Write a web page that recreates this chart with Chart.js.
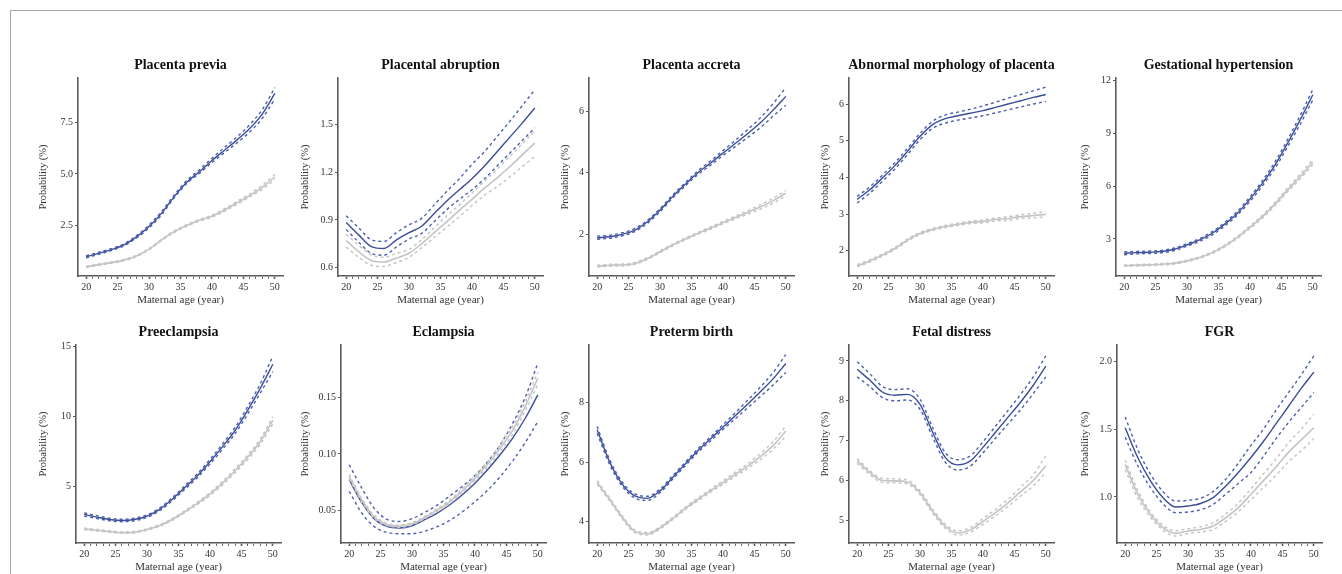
<!DOCTYPE html>
<html>
<head>
<meta charset="utf-8">
<script src="https://cdn.jsdelivr.net/npm/chart.js@4.4.0/dist/chart.umd.min.js"></script>
<style>
  body { margin: 0; background: #fff; width: 1342px; height: 574px; overflow: hidden; position: relative; }
  #frame { position: absolute; left: 10px; top: 10px; right: 0; bottom: 0; border-top: 1px solid #a8a8a8; border-left: 1px solid #a8a8a8; }
  canvas { position: absolute; }
</style>
</head>
<body>
<div id="frame"></div>
<script>
// maternal age points (year)
const ages = [20, 22, 24, 26, 28, 30, 32, 34, 36, 38, 40, 42, 44, 46, 48, 50];
const xMajor = [20, 25, 30, 35, 40, 45, 50];

// Placenta previa
const previaBlue   = [0.98, 1.15, 1.33, 1.56, 1.95, 2.45, 3.1, 3.9, 4.6, 5.1, 5.65, 6.15, 6.65, 7.2, 7.9, 8.9];
const previaBlueLo = [0.93, 1.1, 1.28, 1.51, 1.89, 2.38, 3.02, 3.84, 4.54, 5.02, 5.55, 6.03, 6.51, 7.03, 7.69, 8.63];
const previaBlueHi = [1.03, 1.2, 1.38, 1.61, 2.01, 2.52, 3.18, 3.98, 4.68, 5.2, 5.76, 6.28, 6.8, 7.38, 8.12, 9.18];
const previaGray   = [0.49, 0.6, 0.7, 0.82, 1.02, 1.35, 1.8, 2.2, 2.5, 2.75, 2.95, 3.25, 3.6, 3.95, 4.35, 4.85];
const previaGrayLo = [0.46, 0.57, 0.67, 0.79, 0.99, 1.32, 1.77, 2.16, 2.46, 2.71, 2.9, 3.19, 3.53, 3.87, 4.25, 4.72];
const previaGrayHi = [0.52, 0.63, 0.73, 0.85, 1.05, 1.38, 1.83, 2.24, 2.54, 2.79, 3.0, 3.31, 3.67, 4.03, 4.45, 4.98];
const previaTicks  = ["2.5", "5.0", "7.5"];

// Placental abruption
const abruptionBlue   = [0.884, 0.806, 0.732, 0.72, 0.775, 0.82, 0.86, 0.94, 1.02, 1.09, 1.16, 1.24, 1.33, 1.42, 1.51, 1.605];
const abruptionBlueLo = [0.84, 0.76, 0.69, 0.678, 0.73, 0.78, 0.815, 0.89, 0.965, 1.03, 1.09, 1.16, 1.24, 1.32, 1.4, 1.48];
const abruptionBlueHi = [0.926, 0.85, 0.775, 0.765, 0.82, 0.87, 0.91, 0.995, 1.08, 1.16, 1.25, 1.33, 1.425, 1.52, 1.62, 1.72];
const abruptionGray   = [0.77, 0.7, 0.645, 0.635, 0.66, 0.69, 0.75, 0.82, 0.89, 0.96, 1.03, 1.1, 1.165, 1.235, 1.31, 1.385];
const abruptionGrayLo = [0.73, 0.665, 0.615, 0.607, 0.632, 0.665, 0.725, 0.79, 0.855, 0.92, 0.99, 1.055, 1.11, 1.17, 1.235, 1.3];
const abruptionGrayHi = [0.81, 0.74, 0.68, 0.665, 0.69, 0.715, 0.775, 0.85, 0.925, 0.995, 1.07, 1.145, 1.22, 1.3, 1.38, 1.46];
const abruptionTicks  = ["0.6", "0.9", "1.2", "1.5"];

// Placenta accreta
const accretaBlue   = [1.88, 1.91, 1.99, 2.13, 2.4, 2.78, 3.22, 3.62, 4.0, 4.31, 4.64, 4.96, 5.29, 5.64, 6.05, 6.49];
const accretaBlueLo = [1.83, 1.86, 1.94, 2.08, 2.35, 2.73, 3.17, 3.57, 3.94, 4.24, 4.56, 4.86, 5.16, 5.48, 5.85, 6.2];
const accretaBlueHi = [1.93, 1.96, 2.04, 2.18, 2.45, 2.83, 3.27, 3.67, 4.06, 4.38, 4.72, 5.06, 5.42, 5.8, 6.26, 6.78];
const accretaGray   = [0.95, 0.98, 0.99, 1.04, 1.2, 1.42, 1.64, 1.84, 2.02, 2.19, 2.37, 2.54, 2.71, 2.89, 3.09, 3.33];
const accretaGrayLo = [0.92, 0.95, 0.96, 1.01, 1.17, 1.39, 1.61, 1.81, 1.99, 2.15, 2.33, 2.49, 2.65, 2.82, 3.01, 3.24];
const accretaGrayHi = [0.98, 1.01, 1.02, 1.07, 1.23, 1.45, 1.67, 1.87, 2.05, 2.23, 2.41, 2.59, 2.77, 2.96, 3.17, 3.42];
const accretaTicks  = ["2", "4", "6"];

// Abnormal morphology of placenta
const morphBlue   = [3.4, 3.66, 3.98, 4.32, 4.71, 5.12, 5.44, 5.6, 5.68, 5.75, 5.82, 5.91, 6.0, 6.09, 6.18, 6.26];
const morphBlueLo = [3.3, 3.57, 3.89, 4.23, 4.62, 5.03, 5.34, 5.48, 5.56, 5.62, 5.68, 5.76, 5.84, 5.92, 6.0, 6.07];
const morphBlueHi = [3.48, 3.74, 4.06, 4.4, 4.79, 5.2, 5.53, 5.7, 5.78, 5.86, 5.95, 6.05, 6.16, 6.26, 6.36, 6.46];
const morphGray   = [1.59, 1.72, 1.88, 2.06, 2.29, 2.47, 2.58, 2.66, 2.72, 2.77, 2.8, 2.85, 2.88, 2.93, 2.96, 2.99];
const morphGrayLo = [1.56, 1.69, 1.85, 2.03, 2.26, 2.44, 2.55, 2.63, 2.69, 2.74, 2.76, 2.81, 2.83, 2.88, 2.9, 2.92];
const morphGrayHi = [1.62, 1.75, 1.91, 2.09, 2.32, 2.5, 2.61, 2.69, 2.75, 2.8, 2.84, 2.89, 2.93, 2.98, 3.02, 3.06];
const morphTicks  = ["2", "3", "4", "5", "6"];

// Gestational hypertension
const ghBlue   = [2.18, 2.22, 2.24, 2.28, 2.41, 2.66, 2.94, 3.32, 3.84, 4.46, 5.26, 6.17, 7.21, 8.45, 9.78, 11.2];
const ghBlueLo = [2.1, 2.15, 2.17, 2.21, 2.34, 2.59, 2.86, 3.23, 3.74, 4.35, 5.13, 6.02, 7.03, 8.24, 9.53, 10.9];
const ghBlueHi = [2.26, 2.29, 2.31, 2.35, 2.48, 2.73, 3.02, 3.41, 3.94, 4.57, 5.39, 6.32, 7.39, 8.66, 10.03, 11.5];
const ghGray   = [1.48, 1.5, 1.52, 1.56, 1.61, 1.75, 1.94, 2.22, 2.6, 3.09, 3.66, 4.27, 4.99, 5.79, 6.55, 7.37];
const ghGrayLo = [1.44, 1.46, 1.48, 1.52, 1.57, 1.71, 1.9, 2.17, 2.55, 3.03, 3.59, 4.19, 4.9, 5.68, 6.42, 7.22];
const ghGrayHi = [1.52, 1.54, 1.56, 1.6, 1.65, 1.79, 1.98, 2.27, 2.65, 3.15, 3.73, 4.35, 5.08, 5.9, 6.68, 7.52];
const ghTicks  = ["3", "6", "9", "12"];

// Preeclampsia
const preBlue   = [3.01, 2.82, 2.65, 2.58, 2.65, 2.89, 3.37, 4.09, 4.93, 5.77, 6.77, 7.85, 9.0, 10.44, 12.0, 13.73];
const preBlueLo = [2.9, 2.72, 2.56, 2.49, 2.56, 2.8, 3.27, 3.98, 4.81, 5.63, 6.61, 7.66, 8.77, 10.17, 11.67, 13.2];
const preBlueHi = [3.12, 2.92, 2.74, 2.67, 2.74, 2.98, 3.47, 4.2, 5.05, 5.91, 6.93, 8.04, 9.23, 10.71, 12.33, 14.3];
const preGray   = [1.98, 1.88, 1.79, 1.71, 1.74, 1.93, 2.22, 2.65, 3.2, 3.8, 4.45, 5.24, 6.13, 7.09, 8.21, 9.72];
const preGrayLo = [1.92, 1.83, 1.74, 1.66, 1.69, 1.88, 2.16, 2.59, 3.13, 3.72, 4.35, 5.12, 5.99, 6.93, 8.02, 9.46];
const preGrayHi = [2.04, 1.93, 1.84, 1.76, 1.79, 1.98, 2.28, 2.71, 3.27, 3.88, 4.55, 5.36, 6.27, 7.25, 8.4, 9.98];
const preTicks  = ["5", "10", "15"];

// Eclampsia
const eclBlue   = [0.0773, 0.0573, 0.0427, 0.0362, 0.0348, 0.0368, 0.0421, 0.048, 0.0553, 0.0641, 0.0743, 0.0861, 0.0993, 0.114, 0.1315, 0.152];
const eclBlueLo = [0.067, 0.048, 0.036, 0.031, 0.0298, 0.0298, 0.032, 0.036, 0.0415, 0.049, 0.058, 0.068, 0.08, 0.094, 0.11, 0.1286];
const eclBlueHi = [0.0905, 0.07, 0.052, 0.0425, 0.0406, 0.043, 0.0485, 0.055, 0.063, 0.0715, 0.081, 0.093, 0.108, 0.127, 0.15, 0.18];
const eclGray   = [0.08, 0.0595, 0.0445, 0.038, 0.0365, 0.0385, 0.044, 0.0505, 0.058, 0.0675, 0.0787, 0.091, 0.105, 0.121, 0.142, 0.1667];
const eclGrayLo = [0.078, 0.058, 0.043, 0.037, 0.0355, 0.0375, 0.043, 0.0492, 0.0565, 0.0657, 0.0766, 0.0885, 0.102, 0.1175, 0.138, 0.1615];
const eclGrayHi = [0.082, 0.061, 0.046, 0.039, 0.0375, 0.0395, 0.045, 0.0518, 0.0595, 0.0693, 0.0808, 0.0935, 0.108, 0.1245, 0.146, 0.172];
const eclTicks  = ["0.05", "0.10", "0.15"];

// Preterm birth
const ptbBlue   = [7.09, 6.0, 5.26, 4.87, 4.79, 5.04, 5.49, 5.94, 6.39, 6.78, 7.18, 7.57, 7.97, 8.38, 8.81, 9.32];
const ptbBlueLo = [6.97, 5.92, 5.19, 4.8, 4.72, 4.98, 5.43, 5.88, 6.33, 6.71, 7.1, 7.47, 7.84, 8.22, 8.6, 9.02];
const ptbBlueHi = [7.2, 6.08, 5.33, 4.94, 4.86, 5.1, 5.55, 6.0, 6.45, 6.85, 7.26, 7.67, 8.1, 8.54, 9.02, 9.62];
const ptbGray   = [5.32, 4.75, 4.15, 3.68, 3.6, 3.8, 4.11, 4.45, 4.75, 5.04, 5.32, 5.6, 5.88, 6.2, 6.57, 7.05];
const ptbGrayLo = [5.26, 4.7, 4.1, 3.64, 3.56, 3.76, 4.07, 4.41, 4.7, 4.99, 5.26, 5.53, 5.8, 6.1, 6.44, 6.88];
const ptbGrayHi = [5.38, 4.8, 4.2, 3.72, 3.64, 3.84, 4.15, 4.49, 4.8, 5.09, 5.38, 5.67, 5.96, 6.3, 6.7, 7.22];
const ptbTicks  = ["4", "6", "8"];

// Fetal distress
const fdBlue   = [8.79, 8.52, 8.22, 8.14, 8.16, 7.91, 7.21, 6.58, 6.39, 6.49, 6.83, 7.21, 7.59, 7.97, 8.39, 8.87];
const fdBlueLo = [8.6, 8.36, 8.08, 8.0, 8.02, 7.78, 7.09, 6.46, 6.26, 6.36, 6.69, 7.06, 7.42, 7.78, 8.18, 8.6];
const fdBlueHi = [8.98, 8.68, 8.36, 8.28, 8.3, 8.04, 7.33, 6.7, 6.52, 6.62, 6.97, 7.36, 7.76, 8.16, 8.6, 9.13];
const fdGray   = [6.49, 6.2, 6.0, 5.99, 5.96, 5.69, 5.23, 4.85, 4.68, 4.76, 4.97, 5.19, 5.44, 5.72, 6.0, 6.37];
const fdGrayLo = [6.43, 6.15, 5.95, 5.94, 5.91, 5.64, 5.18, 4.8, 4.63, 4.7, 4.9, 5.11, 5.35, 5.61, 5.86, 6.2];
const fdGrayHi = [6.55, 6.25, 6.05, 6.04, 6.01, 5.74, 5.28, 4.9, 4.73, 4.82, 5.04, 5.27, 5.53, 5.83, 6.14, 6.62];
const fdTicks  = ["5", "6", "7", "8", "9"];

// FGR
const fgrBlue   = [1.51, 1.29, 1.12, 0.995, 0.926, 0.933, 0.951, 0.995, 1.08, 1.18, 1.29, 1.41, 1.54, 1.67, 1.8, 1.92];
const fgrBlueLo = [1.44, 1.23, 1.07, 0.95, 0.884, 0.889, 0.905, 0.945, 1.02, 1.1, 1.18, 1.3, 1.43, 1.55, 1.66, 1.77];
const fgrBlueHi = [1.59, 1.35, 1.17, 1.04, 0.97, 0.975, 0.99, 1.04, 1.13, 1.25, 1.38, 1.5, 1.64, 1.77, 1.9, 2.04];
const fgrGray   = [1.24, 1.02, 0.872, 0.773, 0.731, 0.748, 0.76, 0.785, 0.847, 0.921, 1.02, 1.12, 1.22, 1.33, 1.42, 1.51];
const fgrGrayLo = [1.2, 0.99, 0.85, 0.755, 0.712, 0.73, 0.74, 0.76, 0.82, 0.89, 0.98, 1.07, 1.16, 1.26, 1.34, 1.43];
const fgrGrayHi = [1.27, 1.05, 0.89, 0.79, 0.75, 0.765, 0.78, 0.81, 0.875, 0.955, 1.06, 1.17, 1.28, 1.4, 1.5, 1.61];
const fgrTicks  = ["1.0", "1.5", "2.0"];

const panels = [
  { title: "Placenta previa", blue: [previaBlue, previaBlueLo, previaBlueHi], gray: [previaGray, previaGrayLo, previaGrayHi], ticks: previaTicks, yMin: 0.05, yMax: 9.65 },
  { title: "Placental abruption", blue: [abruptionBlue, abruptionBlueLo, abruptionBlueHi], gray: [abruptionGray, abruptionGrayLo, abruptionGrayHi], ticks: abruptionTicks, yMin: 0.547, yMax: 1.794 },
  { title: "Placenta accreta", blue: [accretaBlue, accretaBlueLo, accretaBlueHi], gray: [accretaGray, accretaGrayLo, accretaGrayHi], ticks: accretaTicks, yMin: 0.63, yMax: 7.09 },
  { title: "Abnormal morphology of placenta", blue: [morphBlue, morphBlueLo, morphBlueHi], gray: [morphGray, morphGrayLo, morphGrayHi], ticks: morphTicks, yMin: 1.31, yMax: 6.71 },
  { title: "Gestational hypertension", blue: [ghBlue, ghBlueLo, ghBlueHi], gray: [ghGray, ghGrayLo, ghGrayHi], ticks: ghTicks, yMin: 0.89, yMax: 12.15 },
  { title: "Preeclampsia", blue: [preBlue, preBlueLo, preBlueHi], gray: [preGray, preGrayLo, preGrayHi], ticks: preTicks, yMin: 0.97, yMax: 15.1 },
  { title: "Eclampsia", blue: [eclBlue, eclBlueLo, eclBlueHi], gray: [eclGray, eclGrayLo, eclGrayHi], ticks: eclTicks, yMin: 0.0216, yMax: 0.196 },
  { title: "Preterm birth", blue: [ptbBlue, ptbBlueLo, ptbBlueHi], gray: [ptbGray, ptbGrayLo, ptbGrayHi], ticks: ptbTicks, yMin: 3.29, yMax: 9.94 },
  { title: "Fetal distress", blue: [fdBlue, fdBlueLo, fdBlueHi], gray: [fdGray, fdGrayLo, fdGrayHi], ticks: fdTicks, yMin: 4.43, yMax: 9.4 },
  { title: "FGR", blue: [fgrBlue, fgrBlueLo, fgrBlueHi], gray: [fgrGray, fgrGrayLo, fgrGrayHi], ticks: fgrTicks, yMin: 0.66, yMax: 2.12 }
];

// layout (px)
const yTitleX = [43, 305, 565, 825, 1085];
const axisXRow = [[78, 338, 589, 849, 1116], [76, 341, 589, 849, 1117]];
const rowTop = [52, 319];
const plotW = 205;
const canvasH = 258;

const serif = "'Liberation Serif', 'DejaVu Serif', serif";
const axisColor = "#5a5a5a";
const blueSolid = "#3a4d99";
const blueDash = "#4b60ad";
const graySolid = "#c4c4c4";
const grayDash = "#c6c6c6";

// panel title centred over the plot area, like the reference
const plotTitle = {
  id: "plotTitle",
  afterDraw(chart, args, opts) {
    const { ctx, chartArea } = chart;
    ctx.save();
    ctx.font = "bold 14px " + serif;
    ctx.fillStyle = "#111";
    ctx.textAlign = "center";
    ctx.textBaseline = "middle";
    ctx.fillText(opts.text, (chartArea.left + chartArea.right) / 2, chartArea.top - 13);
    ctx.restore();
  }
};

function xy(vals) {
  return vals.map((v, i) => ({ x: ages[i], y: v }));
}

function lineSet(vals, color, dashed, w) {
  return {
    data: xy(vals),
    borderColor: color,
    borderWidth: w,
    borderDash: dashed ? [3, 3] : [],
    pointRadius: 0,
    fill: false,
    cubicInterpolationMode: "monotone"
  };
}

const minorYears = [];
for (let a = 20; a <= 50; a++) minorYears.push(a);

panels.forEach(function (p, k) {
  const row = Math.floor(k / 5), col = k % 5;
  const left = yTitleX[col] - 9;
  const axisX = axisXRow[row][col];
  const width = axisX + plotW + 6 - left;
  const cv = document.createElement("canvas");
  cv.width = width;
  cv.height = canvasH;
  cv.style.left = left + "px";
  cv.style.top = rowTop[row] + "px";
  cv.style.width = width + "px";
  cv.style.height = canvasH + "px";
  document.body.appendChild(cv);

  const yVals = p.ticks.map(parseFloat);

  new Chart(cv.getContext("2d"), {
    type: "line",
    data: {
      datasets: [
        lineSet(p.gray[1], grayDash, true, 1.5),
        lineSet(p.gray[2], grayDash, true, 1.5),
        lineSet(p.gray[0], graySolid, false, 1.6),
        lineSet(p.blue[1], blueDash, true, 1.4),
        lineSet(p.blue[2], blueDash, true, 1.4),
        lineSet(p.blue[0], blueSolid, false, 1.4)
      ]
    },
    plugins: [plotTitle],
    options: {
      responsive: false,
      animation: false,
      devicePixelRatio: 1,
      layout: { padding: { left: 0, right: 6, top: 26, bottom: 0 } },
      plugins: {
        legend: { display: false },
        tooltip: { enabled: false },
        title: { display: false },
        plotTitle: { text: p.title }
      },
      scales: {
        x: {
          type: "linear",
          min: 18.7,
          max: 51.3,
          afterFit: function (s) { s.height = 34; },
          afterBuildTicks: function (s) { s.ticks = minorYears.map(v => ({ value: v })); },
          border: { display: true, color: axisColor, width: 1.6 },
          grid: {
            display: true, drawOnChartArea: false, drawTicks: true, tickLength: 3, tickColor: axisColor,
            tickWidth: c => (c.tick && xMajor.includes(c.tick.value)) ? 1.6 : 0.9
          },
          ticks: {
            autoSkip: false,
            maxRotation: 0,
            padding: 2,
            color: "#333",
            font: { family: serif, size: 10 },
            callback: v => xMajor.includes(v) ? String(v) : ""
          },
          title: {
            display: true,
            text: "Maternal age (year)",
            color: "#333",
            font: { family: serif, size: 11 },
            padding: { top: 0, bottom: 3.5 }
          }
        },
        y: {
          type: "linear",
          min: p.yMin,
          max: p.yMax,
          afterFit: function (s) { s.width = axisX - left; },
          afterBuildTicks: function (s) { s.ticks = yVals.map(v => ({ value: v })); },
          border: { display: true, color: axisColor, width: 1.6 },
          grid: { display: true, drawOnChartArea: false, drawTicks: true, tickLength: 3, tickColor: axisColor, tickWidth: 1.2 },
          ticks: {
            padding: 2,
            color: "#333",
            font: { family: serif, size: 10 },
            callback: (v, i) => p.ticks[i]
          },
          title: {
            display: true,
            text: "Probability (%)",
            color: "#333",
            font: { family: serif, size: 10.5 },
            padding: { top: 2.5, bottom: 0 }
          }
        }
      }
    }
  });
});
</script>
</body>
</html>
